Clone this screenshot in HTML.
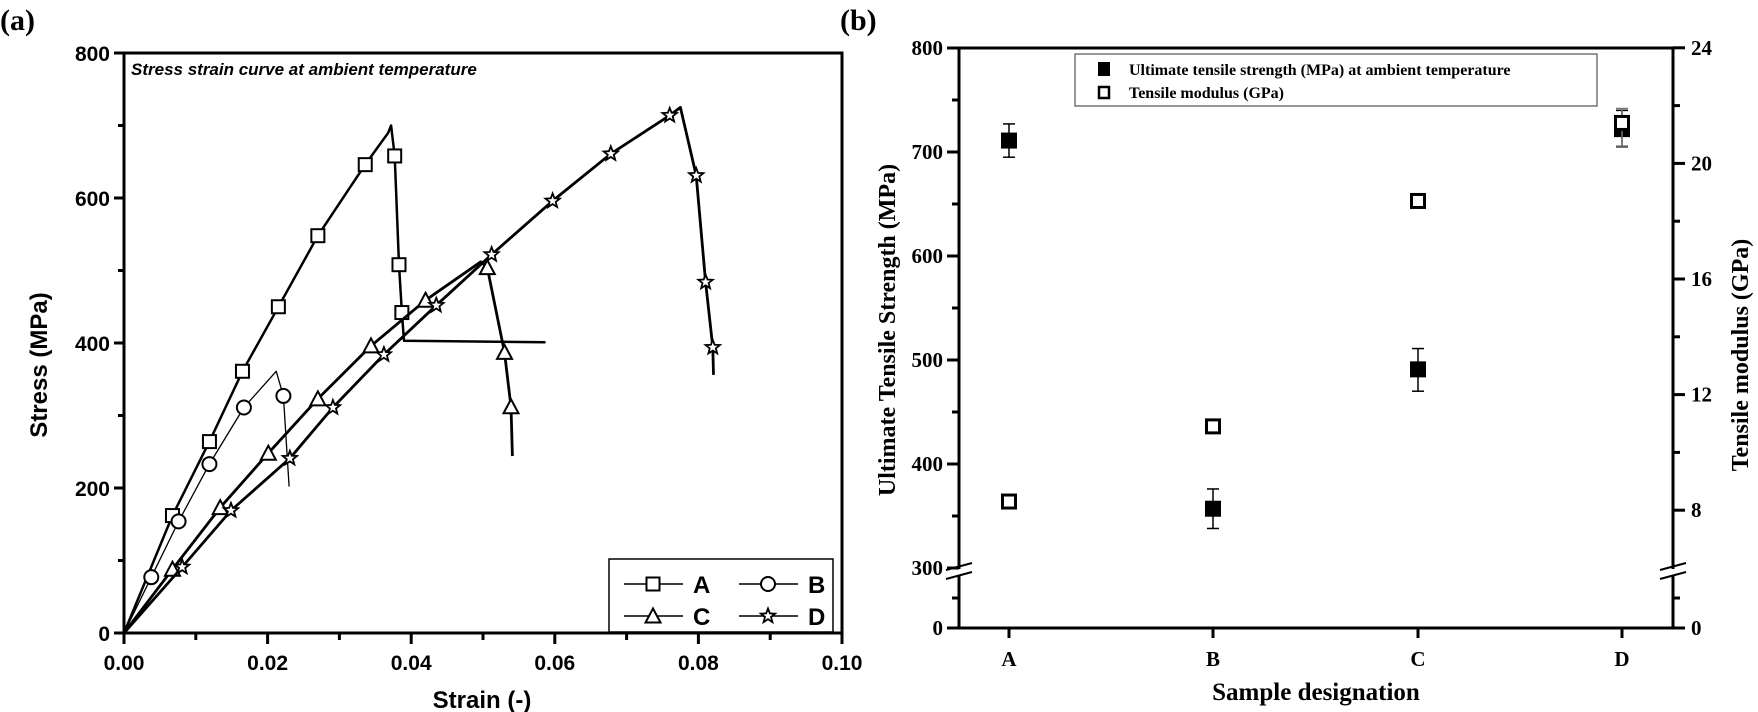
<!DOCTYPE html>
<html><head><meta charset="utf-8"><style>
body{margin:0;background:#fff}
svg{display:block}
.sans{font-family:"Liberation Sans",sans-serif;font-weight:bold}
.serif{font-family:"Liberation Serif",serif;font-weight:bold}
</style></head><body>
<svg id="chart" width="1758" height="712" viewBox="0 0 1758 712" xmlns="http://www.w3.org/2000/svg">
<g id="pa"></g>
<g id="pb"></g>
</svg>
<script>
// ---------- Panel (a) data ----------
const strainTicks = [0, 0.02, 0.04, 0.06, 0.08, 0.10];
const strainTickLabels = ["0.00","0.02","0.04","0.06","0.08","0.10"];
const stressTicks = [0, 200, 400, 600, 800];
const seriesNames = ["A","B","C","D"];
const curveA_x = [0,0.00675,0.0119,0.0165,0.0215,0.027,0.0336,0.0368,0.0372,0.0377,0.0383,0.0387,0.039,0.0587];
const curveA_y = [0,162,264,361,450,548,646,690,700,658,508,442,403,401];
const markA = [1,2,3,4,5,6,9,10,11];
const curveB_x = [0,0.0038,0.0076,0.0119,0.0167,0.0212,0.0222,0.023];
const curveB_y = [0,77,154,233,311,361,327,202];
const markB = [1,2,3,4,6];
const curveC_x = [0,0.00675,0.0134,0.0201,0.027,0.0344,0.042,0.0497,0.0506,0.053,0.0539,0.0541];
const curveC_y = [0,88,173,248,323,396,459,512,504,387,312,244];
const markC = [1,2,3,4,5,6,8,9,10];
const curveD_x = [0,0.0081,0.0149,0.0231,0.0291,0.0362,0.0435,0.0512,0.0597,0.0678,0.076,0.0775,0.0797,0.081,0.082,0.0821];
const curveD_y = [0,91,169,241,311,384,452,522,596,661,714,725,631,484,394,356];
const markD = [1,2,3,4,5,6,7,8,9,10,12,13,14];
// ---------- Panel (b) data ----------
const samples = ["A","B","C","D"];
const uts = [711, 357, 491, 722];
const utsErrLow = [695, 338, 470, 705];
const utsErrHigh = [727, 376, 511, 740];
const modulus = [8.3, 10.9, 18.7, 21.4];
const modErrLow = [8.3, 10.9, 18.7, 20.6];
const modErrHigh = [8.3, 10.9, 18.7, 21.9];
const leftTicks = [0, 300, 400, 500, 600, 700, 800];
const rightTicks = [0, 8, 12, 16, 20, 24];

const NS = "http://www.w3.org/2000/svg";
function mk(parent, tag, attrs, text){
  const e = document.createElementNS(NS, tag);
  for (const k in attrs) e.setAttribute(k, attrs[k]);
  if (text !== undefined) e.textContent = text;
  parent.appendChild(e);
  return e;
}
// ---------- Panel (a) ----------
const pa = document.getElementById('pa');
const AX0=124, AX1=842, AY0=633, AY1=53;
const ax = v => AX0 + v/0.10*(AX1-AX0);
const ay = v => AY0 - v/800*(AY0-AY1);
let t;
t = mk(pa,'text',{x:0,y:30,'font-size':30,class:'serif'},'(a)');
 
t = mk(pa,'rect',{x:AX0,y:AY1,width:AX1-AX0,height:AY0-AY1,fill:'none',stroke:'#000','stroke-width':3});
 
for (let i=0;i<=10;i++){
  const x = ax(i*0.01);
  mk(pa,'line',{x1:x,x2:x,y1:AY0,y2:AY0+(i%2?7:11),stroke:'#000','stroke-width':3});
}
strainTicks.forEach((v,i)=>{
  t = mk(pa,'text',{x:ax(v),y:AY0+37,'font-size':21,'text-anchor':'middle',class:'sans'},strainTickLabels[i]);
   
});
for (let v=0; v<=800; v+=100){
  mk(pa,'line',{x1:AX0,x2:AX0-(v%200?6:10),y1:ay(v),y2:ay(v),stroke:'#000','stroke-width':3});
}
stressTicks.forEach(v=>{
  t = mk(pa,'text',{x:AX0-14,y:ay(v)+8,'font-size':21,'text-anchor':'end',class:'sans'},String(v));
   
});
t = mk(pa,'text',{x:39,y:365,'font-size':24,'text-anchor':'middle',class:'sans',transform:'rotate(-90 39 365)',dy:8},'Stress (MPa)');
 
t = mk(pa,'text',{x:482,y:708,'font-size':24,'text-anchor':'middle',class:'sans'},'Strain (-)');
 
t = mk(pa,'text',{x:131,y:75,'font-size':17,'font-style':'italic',class:'sans'},'Stress strain curve at ambient temperature');
 

function marker(g, kind, cx, cy){
  const s = 6.5;
  if (kind==='A') return mk(g,'rect',{x:cx-s,y:cy-s,width:2*s,height:2*s,fill:'#fff',stroke:'#000','stroke-width':2});
  if (kind==='B') return mk(g,'circle',{cx:cx,cy:cy,r:s+0.5,fill:'#fff',stroke:'#000','stroke-width':2});
  if (kind==='C') return mk(g,'polygon',{points:`${cx},${cy-s-1} ${cx-s-1},${cy+s} ${cx+s+1},${cy+s}`,fill:'#fff',stroke:'#000','stroke-width':2});
  let p=[];
  for(let k=0;k<10;k++){const r=k%2?3.2:7.5;const a=-Math.PI/2+k*Math.PI/5;p.push((cx+r*Math.cos(a)).toFixed(1)+','+(cy+r*Math.sin(a)).toFixed(1));}
  return mk(g,'polygon',{points:p.join(' '),fill:'#fff',stroke:'#000','stroke-width':1.8});
}
const curves = [[curveA_x,curveA_y,markA,2.5],[curveB_x,curveB_y,markB,1.3],[curveC_x,curveC_y,markC,2.8],[curveD_x,curveD_y,markD,2.8]];
curves.forEach((c,si)=>{
  const g = mk(pa,'g',{});
   
  const pts = c[0].map((x,i)=>ax(x).toFixed(1)+','+ay(c[1][i]).toFixed(1)).join(' ');
  const l = mk(g,'polyline',{points:pts,fill:'none',stroke:'#000','stroke-width':c[3],'stroke-linejoin':'round'});
   
  c[2].forEach(i=>{
    const m = marker(g, seriesNames[si], ax(c[0][i]), ay(c[1][i]));
     
  });
});
const lg = mk(pa,'g',{});
 
mk(lg,'rect',{x:609,y:559,width:224,height:73,fill:'#fff',stroke:'#000','stroke-width':1.5});
[[624,584,'A'],[739,584,'B'],[624,616,'C'],[739,616,'D']].forEach(e=>{
  const g = mk(lg,'g',{});
   
  mk(g,'line',{x1:e[0],x2:e[0]+59,y1:e[1],y2:e[1],stroke:'#000','stroke-width':1.5});
  marker(g,e[2],e[0]+29,e[1]);
  mk(g,'text',{x:e[0]+69,y:e[1]+9,'font-size':24,class:'sans'},e[2]);
});

// ---------- Panel (b) ----------
const pb = document.getElementById('pb');
const BX0=959, BX1=1673, BY0=628;
const by = v => v<=300 ? BY0 - v/300*60 : 568 - (v-300)*1.04;
const byR = v => v<=6 ? BY0 - v/6*60 : 568 - (v-6)*28.9;
const bx = i => [1009,1213,1418,1622][i];
t = mk(pb,'text',{x:840,y:30,'font-size':30,class:'serif'},'(b)');
 
const frame = mk(pb,'g',{});
 
mk(frame,'line',{x1:BX0,x2:BX1,y1:48,y2:48,stroke:'#000','stroke-width':3});
mk(frame,'line',{x1:BX0,x2:BX1,y1:BY0,y2:BY0,stroke:'#000','stroke-width':3});
mk(frame,'line',{x1:BX0,x2:BX0,y1:48,y2:BY0,stroke:'#000','stroke-width':3});
mk(frame,'line',{x1:BX1,x2:BX1,y1:48,y2:BY0,stroke:'#000','stroke-width':3});
// breaks
[[BX0,-1],[BX1,1]].forEach(b=>{
  mk(pb,'rect',{x:b[0]-10,y:569,width:20,height:7,fill:'#fff'});
  mk(pb,'line',{x1:b[0]-13,x2:b[0]+13,y1:570,y2:563,stroke:'#000','stroke-width':2});
  mk(pb,'line',{x1:b[0]-13,x2:b[0]+13,y1:579,y2:572,stroke:'#000','stroke-width':2});
});
[800,750,700,650,600,550,500,450,400,350,300,150,0].forEach(v=>{
  mk(pb,'line',{x1:BX0,x2:BX0-(v%100?7:12),y1:by(v),y2:by(v),stroke:'#000','stroke-width':3});
});
leftTicks.forEach(v=>{
  t = mk(pb,'text',{x:BX0-16,y:by(v)+7,'font-size':21,'text-anchor':'end',class:'serif'},String(v));
   
});
[24,22,20,18,16,14,12,10,8,3,0].forEach(v=>{
  mk(pb,'line',{x1:BX1,x2:BX1+(v%4?7:12),y1:byR(v),y2:byR(v),stroke:'#000','stroke-width':3});
});
rightTicks.forEach(v=>{
  t = mk(pb,'text',{x:BX1+18,y:byR(v)+7,'font-size':21,class:'serif'},String(v));
   
});
samples.forEach((s,i)=>{
  mk(pb,'line',{x1:bx(i),x2:bx(i),y1:BY0,y2:BY0+10,stroke:'#000','stroke-width':3});
  t = mk(pb,'text',{x:bx(i),y:BY0+38,'font-size':21,'text-anchor':'middle',class:'serif'},s);
   
});
t = mk(pb,'text',{x:1316,y:700,'font-size':25,'text-anchor':'middle',class:'serif'},'Sample designation');
 
t = mk(pb,'text',{x:887,y:330,'font-size':24,'text-anchor':'middle',class:'serif',transform:'rotate(-90 887 330)',dy:8},'Ultimate Tensile Strength (MPa)');
 
t = mk(pb,'text',{x:1740,y:355,'font-size':24,'text-anchor':'middle',class:'serif',transform:'rotate(-90 1740 355)',dy:8},'Tensile modulus (GPa)');
 
function errbar(g,x,y1,y2,col){
  mk(g,'line',{x1:x,x2:x,y1:y1,y2:y2,stroke:col,'stroke-width':1.5});
  mk(g,'line',{x1:x-6,x2:x+6,y1:y1,y2:y1,stroke:col,'stroke-width':1.5});
  mk(g,'line',{x1:x-6,x2:x+6,y1:y2,y2:y2,stroke:col,'stroke-width':1.5});
}
samples.forEach((s,i)=>{
  const g = mk(pb,'g',{});
   
  errbar(g,bx(i),by(utsErrHigh[i]),by(utsErrLow[i]),'#000');
  mk(g,'rect',{x:bx(i)-8,y:by(uts[i])-8,width:16,height:16,fill:'#000'});
});
samples.forEach((s,i)=>{
  const g = mk(pb,'g',{});
   
  if (modErrHigh[i]!==modErrLow[i]) errbar(g,bx(i),byR(modErrHigh[i]),byR(modErrLow[i]),'#777');
  mk(g,'rect',{x:bx(i)-6.5,y:byR(modulus[i])-6.5,width:13,height:13,fill:'#fff',stroke:'#000','stroke-width':3});
});
const lb = mk(pb,'g',{});
 
mk(lb,'rect',{x:1075,y:54,width:522,height:52,fill:'#fff',stroke:'#555','stroke-width':1.2});
let e1 = mk(lb,'g',{});
 
mk(e1,'rect',{x:1098,y:62,width:12,height:14,fill:'#000'});
mk(e1,'text',{x:1129,y:75,'font-size':16,class:'serif'},'Ultimate tensile strength (MPa) at ambient temperature');
let e2 = mk(lb,'g',{});
 
mk(e2,'rect',{x:1099,y:87,width:10,height:11,fill:'#fff',stroke:'#000','stroke-width':2.5});
mk(e2,'text',{x:1129,y:98,'font-size':16,class:'serif'},'Tensile modulus (GPa)');
</script>
</body></html>
